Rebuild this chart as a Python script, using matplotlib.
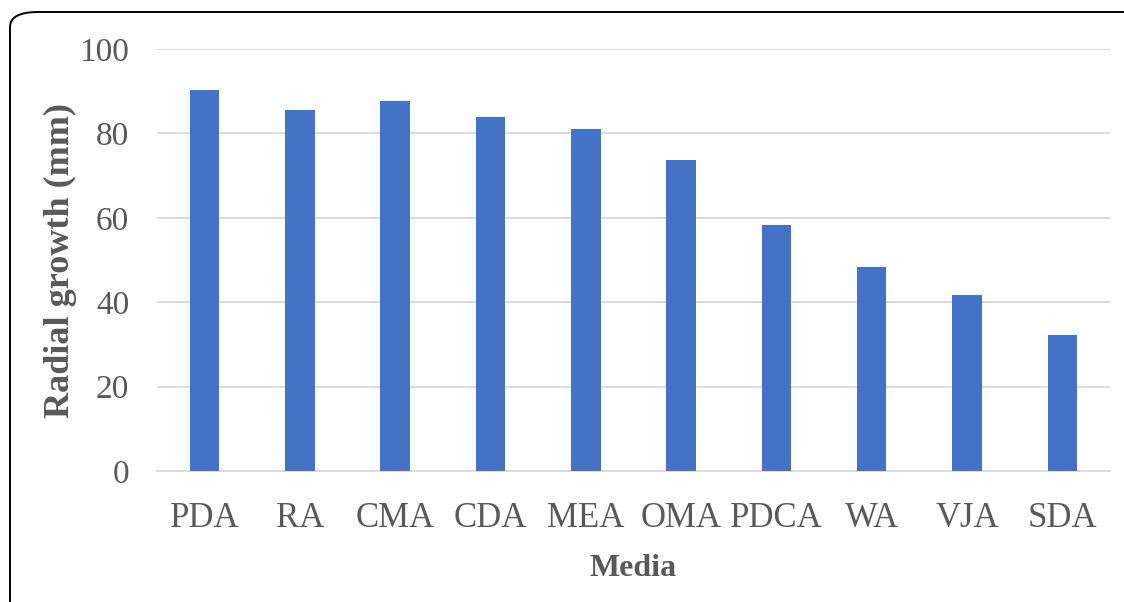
import matplotlib.pyplot as plt
import matplotlib.patches as patches

# Data
media = ["PDA", "RA", "CMA", "CDA", "MEA", "OMA", "PDCA", "WA", "VJA", "SDA"]
radial_growth = [90.2, 85.5, 87.6, 84.0, 81.0, 73.8, 58.4, 48.4, 41.6, 32.3]

BAR = "#4472C4"
TEXT = "#595959"
GRID = "#D9D9D9"

plt.rcParams["font.family"] = ["Liberation Serif", "DejaVu Serif"]

fig = plt.figure(figsize=(11.24, 6.02), dpi=100)
fig.patch.set_facecolor("white")
ax = fig.add_axes([0.1397, 0.2176, 0.8478, 0.7010])

ax.bar(range(len(media)), radial_growth, width=0.31, color=BAR, zorder=3)

ax.set_xlim(-0.5, len(media) - 0.5)
ax.set_ylim(0, 100)
ax.set_yticks(range(0, 101, 20))
ax.set_xticks(range(len(media)))
ax.set_xticklabels(media)

ax.grid(axis="y", color=GRID, lw=1.3, zorder=0)
for s in ["top", "right", "left"]:
    ax.spines[s].set_visible(False)
ax.spines["bottom"].set_color(GRID)
ax.spines["bottom"].set_linewidth(1.3)

ax.tick_params(axis="x", length=0, pad=22, labelsize=25, labelcolor=TEXT)
ax.tick_params(axis="y", length=0, pad=20, labelsize=24, labelcolor=TEXT)

ax.set_xlabel("Media", fontsize=23, fontweight="bold", color=TEXT, labelpad=14)
ax.set_ylabel("Radial growth (mm)", fontsize=26, fontweight="bold",
              color=TEXT, labelpad=2)

# rounded frame: left and top edges, the rest runs off the image
W, H = 1124, 602
frame = patches.FancyBboxPatch(
    (10 / W, -0.05), 1.2, (602 - 12) / H + 0.05,
    boxstyle="round,pad=0,rounding_size=0.025",
    transform=fig.transFigure, facecolor="none", edgecolor="black",
    lw=1.4, clip_on=False)
fig.patches.append(frame)

fig.savefig("out.png", dpi=100, facecolor="white")
